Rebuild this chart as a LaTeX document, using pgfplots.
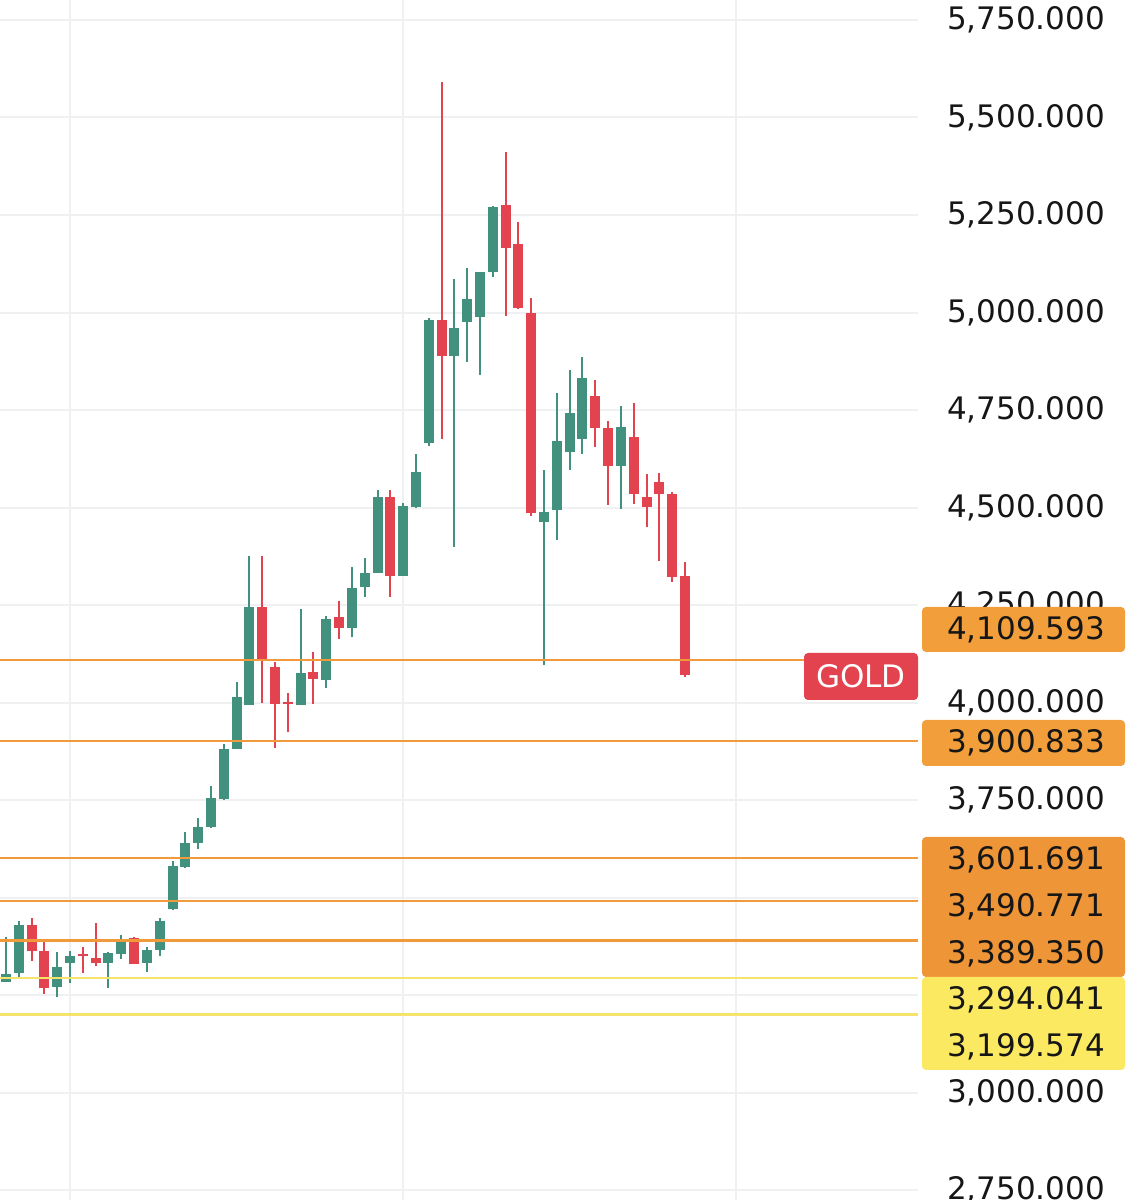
\documentclass[border=0pt]{standalone}
\usepackage{fontspec}
\setmainfont{DejaVu Sans}
\usepackage{pgfplots}
\pgfplotsset{compat=1.18}
\usepackage{pgfplotstable}
\definecolor{cgreen}{HTML}{42917E}
\definecolor{cred}{HTML}{E2434F}
\definecolor{corange}{HTML}{F09A3C}
\definecolor{cobox}{HTML}{F19E3B}
\definecolor{cobox2}{HTML}{EE9538}
\definecolor{cyellow}{HTML}{F6E36C}
\definecolor{cybox}{HTML}{FCE962}
\definecolor{cgrid}{HTML}{EFF0F2}
\definecolor{ctext}{HTML}{161616}

\pgfplotstableread{
i o h l c
0 3284 3400 3284 3303
1 3306 3441 3291 3430
4 3270 3361 3244 3321
5 3333 3364 3282 3350
8 3333 3360 3267 3359
9 3355 3404 3342 3394
11 3331 3374 3308 3365
12 3365 3448 3350 3441
13 3470 3594 3468 3581
14 3579 3669 3575 3639
15 3639 3703 3624 3680
16 3680 3787 3678 3754
17 3753 3894 3750 3881
18 3881 4053 3880 4013
19 3994 4376 3994 4246
23 3994 4240 3994 4076
25 4059 4222 4036 4213
27 4192 4347 4167 4293
28 4295 4370 4270 4333
29 4333 4545 4333 4526
31 4324 4512 4324 4504
32 4502 4637 4500 4590
33 4665 4985 4658 4982
35 4889 5085 4398 4961
36 4977 5113 4874 5036
37 4989 5105 4840 5103
38 5105 5273 5092 5271
42 4462 4596 4096 4488
43 4494 4793 4417 4671
44 4643 4853 4596 4742
45 4676 4885 4637 4831
48 4607 4759 4496 4707
}\greentable

\pgfplotstableread{
i o h l c
2 3430 3448 3338 3364
3 3364 3393 3253 3269
6 3355 3372 3307 3349
7 3344 3434 3324 3331
10 3395 3400 3329 3330
20 4246 4376 4000 4107
21 4090 4103 3883 3996
22 4000 4025 3925 3995
24 4079 4129 3996 4059
26 4218 4260 4162 4192
30 4526 4545 4271 4324
34 4982 5592 4677 4889
39 5276 5412 4992 5166
40 5176 5231 5008 5012
41 4998 5038 4477 4485
46 4786 4827 4656 4703
47 4703 4723 4506 4607
49 4682 4767 4509 4534
50 4526 4585 4451 4502
51 4565 4589 4363 4534
52 4534 4541 4308 4323
53 4324 4359 4065 4071
}\redtable

\begin{document}
\begin{tikzpicture}
\useasboundingbox (0,0) rectangle (569.5pt,600pt);
\begin{axis}[
  at={(0,0)}, anchor=south west,
  scale only axis, width=459pt, height=600pt,
  xmin=-0.468, xmax=71.19, ymin=2724.4, ymax=5801.3,
  axis line style={draw=none},
  tick style={draw=none}, major tick length=0pt,
  xtick={5,31,57}, xticklabels={},
  ytick={2750,3000,...,5750}, yticklabels={},
  grid=major,
  major grid style={draw=cgrid, line width=1pt},
]
% wicks
\addplot[draw=none, mark=none, forget plot,
  error bars/.cd, y dir=both, y explicit, error mark=none,
  error bar style={draw=cgreen, line width=1pt}]
  table[x=i, y expr={(\thisrow{h}+\thisrow{l})/2},
        y error expr={(\thisrow{h}-\thisrow{l})/2}] {\greentable};
\addplot[draw=none, mark=none, forget plot,
  error bars/.cd, y dir=both, y explicit, error mark=none,
  error bar style={draw=cred, line width=1pt}]
  table[x=i, y expr={(\thisrow{h}+\thisrow{l})/2},
        y error expr={(\thisrow{h}-\thisrow{l})/2}] {\redtable};
% bodies
\addplot[draw=none, mark=none, forget plot,
  error bars/.cd, y dir=both, y explicit, error mark=none,
  error bar style={draw=cgreen, line width=5pt}]
  table[x=i, y expr={(\thisrow{o}+\thisrow{c})/2},
        y error expr={max(abs(\thisrow{o}-\thisrow{c})/2,2.6)}] {\greentable};
\addplot[draw=none, mark=none, forget plot,
  error bars/.cd, y dir=both, y explicit, error mark=none,
  error bar style={draw=cred, line width=5pt}]
  table[x=i, y expr={(\thisrow{o}+\thisrow{c})/2},
        y error expr={max(abs(\thisrow{o}-\thisrow{c})/2,2.6)}] {\redtable};
% levels
\addplot[corange, line width=1.2pt] coordinates {(-1,4109.593) (72,4109.593)};
\addplot[corange, line width=1.2pt] coordinates {(-1,3900.833) (72,3900.833)};
\addplot[corange, line width=1.2pt] coordinates {(-1,3601.691) (72,3601.691)};
\addplot[corange, line width=1.2pt] coordinates {(-1,3490.771) (72,3490.771)};
\addplot[corange, line width=1.2pt] coordinates {(-1,3389.350) (72,3389.350)};
\addplot[cyellow, line width=1.2pt] coordinates {(-1,3294.041) (72,3294.041)};
\addplot[cyellow, line width=1.2pt] coordinates {(-1,3199.574) (72,3199.574)};
\end{axis}
% axis tick labels (3,250 and 3,500 are hidden under the level tags in the reference)
\foreach \v/\t in {2750/{2,750.000},3000/{3,000.000},3750/{3,750.000},4000/{4,000.000},4250/{4,250.000},4500/{4,500.000},4750/{4,750.000},5000/{5,000.000},5250/{5,250.000},5500/{5,500.000},5750/{5,750.000}}
  \node[text=ctext, font=\fontsize{15.5}{18}\selectfont, inner sep=0pt] at (513pt,{(\v-2724.4)*0.195pt}) {\t};
% label boxes
\fill[cobox, rounded corners=2pt] (461pt,274pt) rectangle (562.5pt,296.5pt);
\node[text=ctext, font=\fontsize{15.5}{18}\selectfont, inner sep=0pt] at (513pt,285.3pt) {4,109.593};
\fill[cobox, rounded corners=2pt] (461pt,217pt) rectangle (562.5pt,240pt);
\node[text=ctext, font=\fontsize{15.5}{18}\selectfont, inner sep=0pt] at (513pt,228.5pt) {3,900.833};
\fill[cobox2, rounded corners=2pt] (461pt,111.5pt) rectangle (562.5pt,181.5pt);
\node[text=ctext, font=\fontsize{15.5}{18}\selectfont, inner sep=0pt] at (513pt,170pt) {3,601.691};
\node[text=ctext, font=\fontsize{15.5}{18}\selectfont, inner sep=0pt] at (513pt,146.8pt) {3,490.771};
\node[text=ctext, font=\fontsize{15.5}{18}\selectfont, inner sep=0pt] at (513pt,123.3pt) {3,389.350};
\fill[cybox, rounded corners=2pt] (461pt,65pt) rectangle (562.5pt,111.5pt);
\node[text=ctext, font=\fontsize{15.5}{18}\selectfont, inner sep=0pt] at (513pt,100pt) {3,294.041};
\node[text=ctext, font=\fontsize{15.5}{18}\selectfont, inner sep=0pt] at (513pt,76.8pt) {3,199.574};
% GOLD tag
\fill[cred, rounded corners=2pt] (402pt,250pt) rectangle (459pt,273.5pt);
\node[text=white, font=\fontsize{15.5}{18}\selectfont, inner sep=0pt] at (430.5pt,261.8pt) {GOLD};
\end{tikzpicture}
\end{document}
